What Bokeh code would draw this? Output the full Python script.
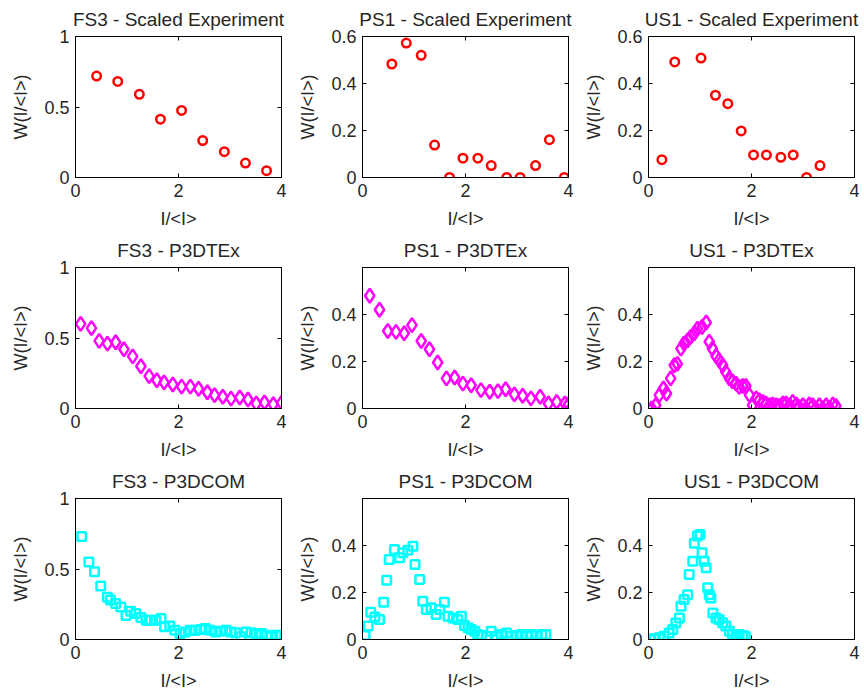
from bokeh.plotting import figure
from bokeh.layouts import gridplot
from bokeh.models import FixedTicker, LinearAxis, Range1d
from bokeh.embed import file_html
from bokeh.resources import INLINE

FONT = "Liberation Sans"
TXT = "#262626"

# ---------------- data ----------------
x_label = "I/<I>"
y_label = "W(I/<I>)"

titles = [
    ["FS3 - Scaled Experiment", "PS1 - Scaled Experiment", "US1 - Scaled Experiment"],
    ["FS3 - P3DTEx", "PS1 - P3DTEx", "US1 - P3DTEx"],
    ["FS3 - P3DCOM", "PS1 - P3DCOM", "US1 - P3DCOM"],
]

x_ticks = [0, 2, 4]
y_ticks_fs3 = [0, 0.5, 1]
y_ticks_exp = [0, 0.2, 0.4, 0.6]
y_ticks_sim = [0, 0.2, 0.4]
y_tick_labels = {0: "0", 0.2: "0.2", 0.4: "0.4", 0.5: "0.5", 0.6: "0.6", 1: "1"}

fs3_exp_x = [0.41, 0.82, 1.24, 1.65, 2.06, 2.47, 2.89, 3.30, 3.71]
fs3_exp_y = [0.719, 0.681, 0.590, 0.414, 0.476, 0.262, 0.183, 0.102, 0.048]

ps1_exp_x = [0.57, 0.85, 1.14, 1.40, 1.69, 1.95, 2.24, 2.50, 2.80, 3.06, 3.36, 3.63, 3.92]
ps1_exp_y = [0.483, 0.572, 0.520, 0.138, 0.0, 0.082, 0.082, 0.051, 0.0, 0.0, 0.051, 0.161, 0.0]

us1_exp_x = [0.26, 0.51, 1.02, 1.30, 1.54, 1.80, 2.04, 2.29, 2.57, 2.81, 3.07, 3.33]
us1_exp_y = [0.076, 0.492, 0.508, 0.350, 0.314, 0.198, 0.096, 0.096, 0.086, 0.096, 0.0, 0.051]

fs3_tex_x = [0.10, 0.31, 0.46, 0.62, 0.78, 0.94, 1.11, 1.27, 1.43, 1.58, 1.72, 1.89, 2.06,
             2.23, 2.39, 2.56, 2.70, 2.86, 3.02, 3.19, 3.35, 3.51, 3.67, 3.84, 4.00]
fs3_tex_y = [0.60, 0.57, 0.48, 0.46, 0.47, 0.42, 0.37, 0.30, 0.23, 0.20, 0.185, 0.17, 0.155,
             0.155, 0.14, 0.115, 0.095, 0.083, 0.07, 0.078, 0.064, 0.035, 0.043, 0.03, 0.04]

ps1_tex_x = [0.14, 0.33, 0.49, 0.65, 0.81, 0.96, 1.14, 1.30, 1.46, 1.63, 1.79, 1.95, 2.11,
             2.30, 2.47, 2.63, 2.78, 2.95, 3.11, 3.27, 3.45, 3.61, 3.77, 3.93, 4.00]
ps1_tex_y = [0.48, 0.42, 0.33, 0.326, 0.32, 0.355, 0.287, 0.252, 0.196, 0.128, 0.132, 0.106,
             0.099, 0.078, 0.071, 0.074, 0.082, 0.06, 0.054, 0.043, 0.05, 0.021, 0.028, 0.021, 0.017]

us1_tex_x = [0.06, 0.14, 0.21, 0.29, 0.35, 0.43, 0.50, 0.56, 0.63, 0.69, 0.76, 0.82, 0.89,
             0.95, 1.04, 1.12, 1.18, 1.24, 1.31, 1.37, 1.44, 1.50, 1.57, 1.63, 1.70, 1.76,
             1.83, 1.89, 1.96, 2.02, 2.09, 2.15, 2.22, 2.28, 2.35, 2.41, 2.48, 2.54, 2.61,
             2.67, 2.74, 2.80, 2.87, 2.93, 3.00, 3.06, 3.12, 3.19, 3.25, 3.32, 3.38, 3.45,
             3.51, 3.58, 3.64]
us1_tex_y = [0.0, 0.014, 0.057, 0.085, 0.064, 0.128, 0.184, 0.19, 0.255, 0.277, 0.29, 0.305,
             0.32, 0.34, 0.347, 0.366, 0.284, 0.255, 0.224, 0.206, 0.184, 0.156, 0.128, 0.116,
             0.106, 0.092, 0.096, 0.096, 0.057, 0.014, 0.043, 0.035, 0.028, 0.021, 0.014,
             0.017, 0.014, 0.011, 0.021, 0.021, 0.014, 0.028, 0.017, 0.007, 0.014, 0.0,
             0.017, 0.014, 0.0, 0.014, 0.0, 0.014, 0.003, 0.017, 0.011]

fs3_com_x = [0.12, 0.26, 0.37, 0.49, 0.62, 0.68, 0.78, 0.88, 0.98, 1.07, 1.17, 1.27, 1.37,
             1.46, 1.56, 1.66, 1.73, 1.83, 1.93, 2.03, 2.13, 2.23, 2.33, 2.43, 2.52, 2.62,
             2.72, 2.82, 2.92, 3.02, 3.11, 3.21, 3.31, 3.41, 3.51, 3.61, 3.71, 3.80, 3.90, 4.00]
fs3_com_y = [0.73, 0.55, 0.48, 0.38, 0.30, 0.28, 0.255, 0.23, 0.17, 0.20, 0.185, 0.156, 0.137,
             0.137, 0.137, 0.149, 0.09, 0.095, 0.066, 0.043, 0.054, 0.066, 0.066, 0.071, 0.078,
             0.066, 0.054, 0.059, 0.066, 0.054, 0.047, 0.019, 0.054, 0.047, 0.038, 0.043,
             0.031, 0.019, 0.031, 0.031]

ps1_com_x = [0.05, 0.11, 0.16, 0.24, 0.33, 0.41, 0.47, 0.52, 0.62, 0.72, 0.78, 0.88, 0.98,
             1.02, 1.11, 1.17, 1.24, 1.33, 1.43, 1.50, 1.59, 1.66, 1.76, 1.85, 1.92, 1.98,
             2.05, 2.11, 2.18, 2.24, 2.31, 2.41, 2.50, 2.60, 2.70, 2.80, 2.89, 2.99, 3.09,
             3.19, 3.28, 3.38, 3.48, 3.56]
ps1_com_y = [0.017, 0.057, 0.116, 0.096, 0.085, 0.159, 0.252, 0.34, 0.383, 0.348, 0.369, 0.38,
             0.397, 0.319, 0.255, 0.163, 0.128, 0.135, 0.106, 0.128, 0.159, 0.099, 0.092, 0.085,
             0.099, 0.06, 0.05, 0.043, 0.035, 0.021, 0.017, 0.014, 0.035, 0.014, 0.021, 0.028,
             0.014, 0.017, 0.021, 0.014, 0.021, 0.017, 0.021, 0.021]

us1_com_x = [0.03, 0.11, 0.21, 0.30, 0.40, 0.47, 0.53, 0.60, 0.63, 0.69, 0.76, 0.79, 0.86,
             0.89, 0.95, 1.00, 1.04, 1.08, 1.12, 1.15, 1.18, 1.21, 1.25, 1.31, 1.37, 1.44,
             1.50, 1.57, 1.63, 1.70, 1.76, 1.83, 1.88]
us1_com_y = [0.0, 0.003, 0.007, 0.014, 0.028, 0.043, 0.07, 0.092, 0.142, 0.17, 0.19, 0.277,
             0.333, 0.41, 0.44, 0.447, 0.369, 0.333, 0.305, 0.22, 0.19, 0.177, 0.113, 0.092,
             0.085, 0.071, 0.057, 0.035, 0.021, 0.014, 0.021, 0.017, 0.014]

series = [
    [(fs3_exp_x, fs3_exp_y), (ps1_exp_x, ps1_exp_y), (us1_exp_x, us1_exp_y)],
    [(fs3_tex_x, fs3_tex_y), (ps1_tex_x, ps1_tex_y), (us1_tex_x, us1_tex_y)],
    [(fs3_com_x, fs3_com_y), (ps1_com_x, ps1_com_y), (us1_com_x, us1_com_y)],
]
row_markers = [("circle", "#ff0000", 8.5), ("diamond", "#ff00ff", 14), ("square", "#00ffff", 8.5)]
y_setup = [
    [(1.0, y_ticks_fs3), (0.6, y_ticks_exp), (0.6, y_ticks_exp)],
    [(1.0, y_ticks_fs3), (0.6, y_ticks_sim), (0.6, y_ticks_sim)],
    [(1.0, y_ticks_fs3), (0.6, y_ticks_sim), (0.6, y_ticks_sim)],
]
col_left = [75, 74, 72]
col_right = [7, 8, 10]


def style_axis(ax, ticks, labels=True):
    ax.ticker = FixedTicker(ticks=ticks)
    ax.major_tick_in = 4
    ax.major_tick_out = 0
    ax.minor_tick_line_color = None
    ax.axis_line_color = "black"
    ax.major_tick_line_color = "black"
    if labels:
        ax.major_label_text_font = FONT
        ax.major_label_text_font_size = "18px"
        ax.major_label_text_color = TXT
        ax.major_label_standoff = 6
        ax.axis_label_text_font = FONT
        ax.axis_label_text_font_size = "18px"
        ax.axis_label_text_font_style = "normal"
        ax.axis_label_text_color = TXT
    else:
        ax.major_label_text_font_size = "0px"
        ax.major_label_text_color = None
        ax.major_label_standoff = 0


figs = []
for r in range(3):
    row = []
    for c in range(3):
        ytop, yt = y_setup[r][c]
        p = figure(width=288, height=231, output_backend="svg", toolbar_location=None,
                   tools="", x_range=Range1d(0, 4), y_range=Range1d(0, ytop),
                   min_border_left=col_left[c], min_border_right=col_right[c],
                   min_border_top=35, min_border_bottom=54,
                   background_fill_color="white", border_fill_color="white")
        p.title.text = titles[r][c]
        p.title.text_font = FONT
        p.title.text_font_size = "19px"
        p.title.text_font_style = "normal"
        p.title.text_color = TXT
        p.title.align = "center"
        p.title.standoff = 13
        p.grid.visible = False
        p.outline_line_color = "black"
        p.outline_line_alpha = 1
        style_axis(p.xaxis[0], x_ticks)
        style_axis(p.yaxis[0], yt)
        p.xaxis[0].axis_label = x_label
        p.yaxis[0].axis_label = y_label
        p.xaxis[0].axis_label_standoff = 9
        p.yaxis[0].axis_label_standoff = 10
        p.yaxis[0].major_label_overrides = {t: y_tick_labels[t] for t in yt}
        top = LinearAxis()
        style_axis(top, x_ticks, labels=False)
        p.add_layout(top, "above")
        right = LinearAxis()
        style_axis(right, yt, labels=False)
        p.add_layout(right, "right")
        xs, ys = series[r][c]
        mk, col, sz = row_markers[r]
        p.scatter(xs, ys, marker=mk, size=sz, line_color=col, fill_color=None, line_width=2.5)
        row.append(p)
    figs.append(row)

grid = gridplot(figs, toolbar_location=None)
open("out.html", "w").write(file_html(grid, INLINE))
